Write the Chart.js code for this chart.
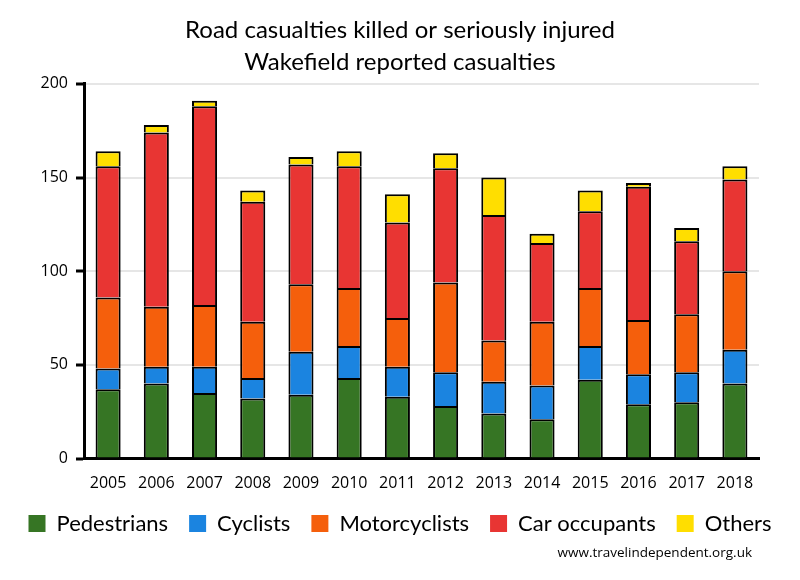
<!DOCTYPE html>
<html>
<head>
<meta charset="utf-8">
<title>Road casualties killed or seriously injured - Wakefield</title>
<script src="https://cdn.jsdelivr.net/npm/chart.js@4"></script>
<style>
  body { margin: 0; background: #fff; }
</style>
</head>
<body>
<canvas id="casualtiesChart" width="800" height="580"></canvas>
<script>
// data
const years = ['2005', '2006', '2007', '2008', '2009', '2010', '2011', '2012', '2013', '2014', '2015', '2016', '2017', '2018'];
const pedestrians   = [37, 40, 35, 32, 34, 43, 33, 28, 24, 21, 42, 29, 30, 40];
const cyclists      = [11,  9, 14, 11, 23, 17, 16, 18, 17, 18, 18, 16, 16, 18];
const motorcyclists = [38, 32, 33, 30, 36, 31, 26, 48, 22, 34, 31, 29, 31, 42];
const carOccupants  = [70, 93, 106, 64, 64, 65, 51, 61, 67, 42, 41, 71, 39, 49];
const others        = [ 8,  4,  3,  6,  4,  8, 15,  8, 20,  5, 11,  2,  7,  7];
const yTicks = [0, 50, 100, 150, 200];

const titleFont = 'Lato';
const tickFont = 'Open Sans';

// site credit under the legend
const footerPlugin = {
    id: 'footer',
    afterDraw(chart) {
        const ctx = chart.ctx;
        ctx.save();
        ctx.font = '13.5px "' + tickFont + '"';
        ctx.fillStyle = '#000';
        ctx.textAlign = 'right';
        ctx.textBaseline = 'middle';
        ctx.fillText('www.travelindependent.org.uk', 752, 553);
        ctx.restore();
    }
};

const ctx = document.getElementById('casualtiesChart').getContext('2d');
const casualtiesChart = new Chart(ctx, {
    type: 'bar',
    data: {
        labels: years,
        datasets: [
            { label: 'Pedestrians',   data: pedestrians,   backgroundColor: '#367524' },
            { label: 'Cyclists',      data: cyclists,      backgroundColor: '#1b84e0' },
            { label: 'Motorcyclists', data: motorcyclists, backgroundColor: '#f55f0c' },
            { label: 'Car occupants', data: carOccupants,  backgroundColor: '#e83533' },
            { label: 'Others',        data: others,        backgroundColor: '#ffde00' }
        ].map(ds => Object.assign(ds, {
            borderColor: '#000',
            borderWidth: 2,
            barPercentage: 0.52,
            categoryPercentage: 1
        }))
    },
    options: {
        responsive: false,
        animation: false,
        layout: { padding: { top: 8, bottom: 35.5, left: 0, right: 0 } },
        plugins: {
            title: {
                display: true,
                text: ['Road casualties killed or seriously injured', 'Wakefield reported casualties'],
                color: '#000',
                font: { family: titleFont, size: 24, weight: 'normal', lineHeight: 1.33 },
                padding: { top: 6, bottom: 6 }
            },
            legend: {
                position: 'bottom',
                labels: {
                    boxWidth: 17,
                    boxHeight: 17,
                    padding: 21,
                    color: '#000',
                    font: { family: titleFont, size: 22 },
                    // plain colour squares, no outline
                    generateLabels: chart => chart.data.datasets.map((ds, i) => ({
                        text: ds.label,
                        fillStyle: ds.backgroundColor,
                        strokeStyle: ds.backgroundColor,
                        lineWidth: 0,
                        fontColor: '#000',
                        datasetIndex: i
                    }))
                }
            },
            tooltip: { enabled: false }
        },
        scales: {
            x: {
                stacked: true,
                grid: { display: false, drawTicks: false },
                border: { color: '#000', width: 3 },
                ticks: { color: '#000', font: { family: tickFont, size: 16 }, padding: 15, maxRotation: 0, autoSkip: false },
                afterFit: scale => { scale.height = 33; }
            },
            y: {
                stacked: true,
                min: yTicks[0],
                max: yTicks[yTicks.length - 1],
                afterBuildTicks: scale => { scale.ticks = yTicks.map(v => ({ value: v })); },
                ticks: { color: '#000', font: { family: tickFont, size: 16 }, padding: 8 },
                grid: { color: '#e6e6e6', lineWidth: 2, tickColor: '#000', tickLength: 8, tickWidth: 3 },
                border: { color: '#000', width: 3 },
                afterFit: scale => { scale.width = 84; }
            },
            // empty axis just to keep space on the right like the original
            spacer: {
                axis: 'y',
                position: 'right',
                grid: { display: false, drawTicks: false },
                border: { display: false },
                ticks: { display: false },
                afterFit: scale => { scale.width = 41; }
            }
        }
    },
    plugins: [footerPlugin]
});
</script>
</body>
</html>
